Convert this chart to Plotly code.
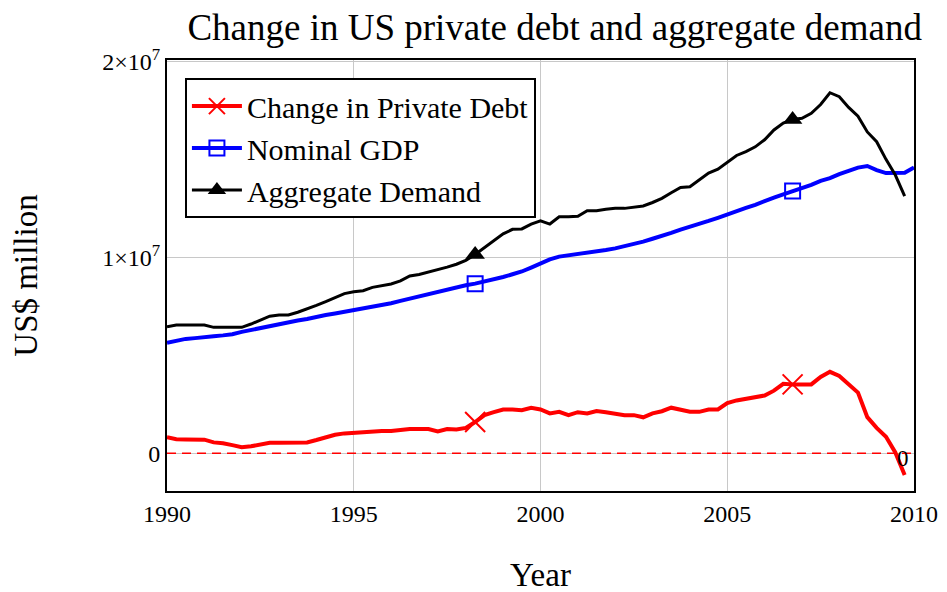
import plotly.graph_objects as go

# Quarterly time axis 1990.00 ... 2009.75 (GDP has one more point at 2010.00)
years = [1990 + 0.25 * i for i in range(80)]
years_gdp = [1990 + 0.25 * i for i in range(81)]

# Change in private debt (US$ million)
debt_change = [
    0.82e6, 0.72e6, 0.71e6, 0.71e6,
    0.70e6, 0.56e6, 0.52e6, 0.42e6,
    0.31e6, 0.36e6, 0.45e6, 0.54e6,
    0.54e6, 0.54e6, 0.54e6, 0.56e6,
    0.68e6, 0.82e6, 0.95e6, 1.02e6,
    1.05e6, 1.10e6, 1.14e6, 1.14e6,
    1.14e6, 1.20e6, 1.24e6, 1.24e6,
    1.24e6, 1.12e6, 1.24e6, 1.22e6,
    1.30e6, 1.60e6, 1.95e6, 2.10e6,
    2.24e6, 2.24e6, 2.20e6, 2.33e6,
    2.24e6, 2.04e6, 2.12e6, 1.95e6,
    2.10e6, 2.04e6, 2.16e6, 2.10e6,
    2.00e6, 1.95e6, 1.95e6, 1.84e6,
    2.04e6, 2.15e6, 2.33e6, 2.20e6,
    2.12e6, 2.12e6, 2.24e6, 2.24e6,
    2.56e6, 2.70e6, 2.78e6, 2.89e6,
    2.95e6, 3.20e6, 3.55e6, 3.52e6,
    3.52e6, 3.52e6, 3.90e6, 4.16e6,
    3.95e6, 3.50e6, 3.10e6, 1.85e6,
    1.30e6, 0.85e6, 0.05e6, -1.10e6,
]

# Nominal GDP (US$ million)
gdp = [
    5.64e6, 5.76e6, 5.84e6, 5.88e6,
    5.95e6, 5.98e6, 6.02e6, 6.08e6,
    6.20e6, 6.30e6, 6.40e6, 6.50e6,
    6.62e6, 6.70e6, 6.78e6, 6.86e6,
    6.98e6, 7.06e6, 7.14e6, 7.22e6,
    7.34e6, 7.42e6, 7.50e6, 7.57e6,
    7.66e6, 7.78e6, 7.90e6, 8.02e6,
    8.12e6, 8.26e6, 8.38e6, 8.48e6,
    8.58e6, 8.66e6, 8.76e6, 8.88e6,
    9.00e6, 9.14e6, 9.28e6, 9.48e6,
    9.69e6, 9.90e6, 10.04e6, 10.10e6,
    10.18e6, 10.25e6, 10.30e6, 10.38e6,
    10.46e6, 10.56e6, 10.66e6, 10.80e6,
    10.95e6, 11.08e6, 11.25e6, 11.42e6,
    11.55e6, 11.70e6, 11.86e6, 12.02e6,
    12.20e6, 12.35e6, 12.52e6, 12.68e6,
    12.88e6, 13.05e6, 13.22e6, 13.38e6,
    13.50e6, 13.70e6, 13.90e6, 14.04e6,
    14.25e6, 14.42e6, 14.58e6, 14.66e6,
    14.45e6, 14.30e6, 14.30e6, 14.32e6,
    14.59e6,
]

# Aggregate demand (US$ million)
agg_demand = [
    6.46e6, 6.55e6, 6.55e6, 6.55e6,
    6.55e6, 6.43e6, 6.43e6, 6.43e6,
    6.43e6, 6.60e6, 6.80e6, 7.00e6,
    7.06e6, 7.06e6, 7.20e6, 7.36e6,
    7.55e6, 7.74e6, 7.95e6, 8.15e6,
    8.25e6, 8.30e6, 8.47e6, 8.55e6,
    8.64e6, 8.80e6, 9.05e6, 9.13e6,
    9.25e6, 9.38e6, 9.50e6, 9.65e6,
    9.85e6, 10.15e6, 10.50e6, 10.85e6,
    11.20e6, 11.43e6, 11.45e6, 11.70e6,
    11.87e6, 11.70e6, 12.07e6, 12.07e6,
    12.10e6, 12.38e6, 12.38e6, 12.45e6,
    12.50e6, 12.50e6, 12.55e6, 12.62e6,
    12.80e6, 13.01e6, 13.30e6, 13.57e6,
    13.60e6, 13.95e6, 14.30e6, 14.50e6,
    14.83e6, 15.20e6, 15.40e6, 15.64e6,
    16.00e6, 16.50e6, 16.85e6, 17.04e6,
    17.10e6, 17.35e6, 17.80e6, 18.40e6,
    18.20e6, 17.65e6, 17.20e6, 16.40e6,
    15.90e6, 15.00e6, 14.20e6, 13.13e6,
]

marker_idx = [33, 67]  # points carrying the series symbols
x_ticks = [1990, 1995, 2000, 2005, 2010]
y_ticks = [0, 1e7, 2e7]
y_tick_text = ["0", "1×10<sup>7</sup>", "2×10<sup>7</sup>"]

FONT = "Liberation Serif, Times New Roman, serif"

fig = go.Figure()

series = [
    ("Change in Private Debt", years, debt_change, "red", 4,
     dict(symbol="x-thin-open", size=20, line=dict(width=2, color="red"), color="red")),
    ("Nominal GDP", years_gdp, gdp, "blue", 4,
     dict(symbol="square-open", size=15, line=dict(width=2, color="blue"), color="blue")),
    ("Aggregate Demand", years, agg_demand, "black", 3,
     dict(symbol="triangle-up", size=17, color="black", line=dict(width=0))),
]

for name, xs, ys, col, lw, mk in series:
    fig.add_trace(go.Scatter(
        x=xs, y=ys, name=name, mode="lines+markers",
        line=dict(color=col, width=lw),
        marker=mk,
        selectedpoints=marker_idx,
        selected=dict(marker=dict(opacity=1)),
        unselected=dict(marker=dict(opacity=0)),
    ))

# zero reference line
fig.add_shape(type="line", xref="paper", x0=0, x1=1, yref="y", y0=0, y1=0,
              line=dict(color="red", width=1.5, dash="9px,6px"), layer="above")
fig.add_annotation(xref="paper", x=1, xanchor="right", xshift=-3,
                   yref="y", y=0, yanchor="middle", yshift=-5,
                   text="0", showarrow=False,
                   font=dict(family=FONT, size=23, color="black"))

fig.update_layout(
    width=947, height=592,
    margin=dict(l=159, r=41, t=52, b=109),
    paper_bgcolor="white", plot_bgcolor="white",
    font=dict(family=FONT, color="black", size=24),
    title=dict(text="Change in US private debt and aggregate demand",
               x=0.519, xref="paper", xanchor="center",
               y=0.968, yref="container", yanchor="middle",
               font=dict(family=FONT, size=37, color="black")),
    showlegend=True,
    legend=dict(x=0.024, y=0.958, xanchor="left", yanchor="top",
                bgcolor="white", bordercolor="black", borderwidth=2,
                font=dict(family=FONT, size=30, color="black"),
                tracegroupgap=0, itemwidth=50),
    xaxis=dict(range=[1990, 2010], tickvals=x_ticks,
               showgrid=True, gridcolor="#c8c8c8", gridwidth=1,
               zeroline=False, showline=True, linecolor="black", linewidth=2,
               mirror=True, ticks="", tickfont=dict(family=FONT, size=24),
               title=dict(text="Year", standoff=37,
                          font=dict(family=FONT, size=33))),
    yaxis=dict(range=[-1.92e6, 2.007e7], tickvals=y_ticks, ticktext=y_tick_text,
               showgrid=True, gridcolor="#c8c8c8", gridwidth=1,
               zeroline=False, showline=True, linecolor="black", linewidth=2,
               mirror=True, ticks="", tickfont=dict(family=FONT, size=24),
               title=dict(text="US$ million", standoff=58,
                          font=dict(family=FONT, size=33))),
)

fig.write_html("out.html")
